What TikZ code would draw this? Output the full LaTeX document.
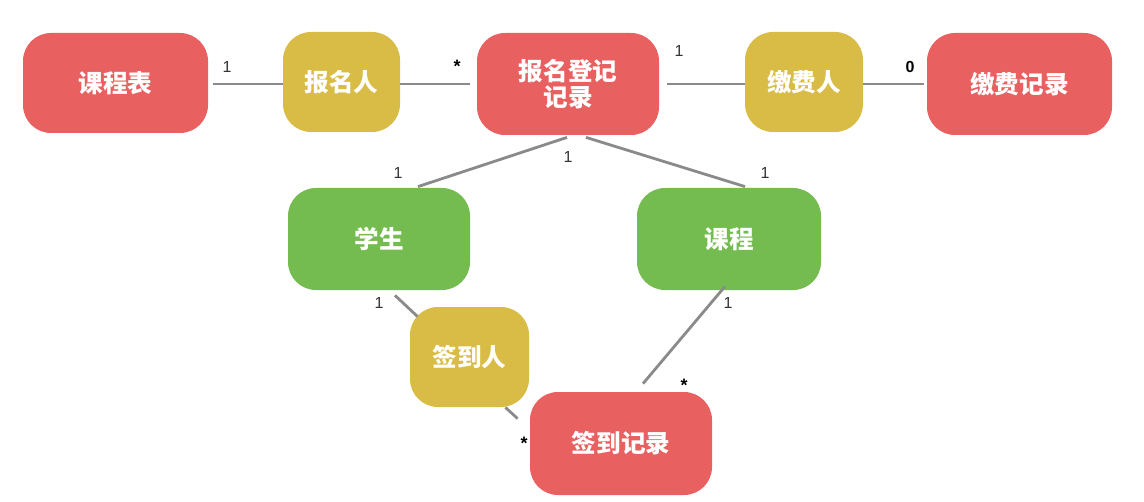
\documentclass[tikz,border=0pt]{standalone}
\usepackage{fontspec}
\setmainfont{Liberation Sans}
\newfontfamily\cjk{Noto Sans CJK SC}
\usetikzlibrary{calc}
\definecolor{cred}{HTML}{E96060}
\definecolor{cyel}{HTML}{D9BC45}
\definecolor{cgrn}{HTML}{74BB50}
\definecolor{cline}{HTML}{8A8A8A}
\definecolor{clbl}{HTML}{333333}
\begin{document}
\begin{tikzpicture}[x=0.5pt,y=-0.5pt,
  box/.style={rounded corners=14pt, inner sep=0pt, text=white,
    font=\cjk\bfseries\fontsize{12.3}{13}\selectfont, align=center},
  redbox/.style={box, fill=cred},
  yelbox/.style={box, fill=cyel},
  grnbox/.style={box, fill=cgrn},
  conn/.style={draw=cline, line width=1.4pt},
  lbl/.style={font=\fontsize{8}{9}\selectfont, inner sep=0pt, text=clbl},
  star/.style={font=\fontsize{9}{9}\selectfont\bfseries, inner sep=0pt, text=black, yshift=-1.5pt}]
\fill[white] (0,0) rectangle (1144,502);
\useasboundingbox (0,0) rectangle (1144,502);
% nodes
\node[redbox, minimum width=92.5pt, minimum height=50pt] (kcb) at (115.5,83) {课程表};
\node[yelbox, minimum width=58.5pt, minimum height=50pt] (bmr) at (341.5,82) {报名人};
\node[redbox, minimum width=91pt, minimum height=51pt] (bmdj) at (568,84) {报名登记\\记录};
\node[yelbox, minimum width=59pt, minimum height=50pt] (jfr) at (804,82) {缴费人};
\node[redbox, minimum width=92.5pt, minimum height=51pt] (jfjl) at (1019.5,84) {缴费记录};
\node[grnbox, minimum width=91pt, minimum height=51pt] (xs) at (379,239) {学生};
\node[grnbox, minimum width=92pt, minimum height=51pt] (kc) at (729,239) {课程};
\node[yelbox, minimum width=59.5pt, minimum height=50pt] (qdr) at (469.5,357) {签到人};
\node[redbox, minimum width=91pt, minimum height=51.5pt] (qdjl) at (621,443.5) {签到记录};
% connectors
\draw[conn] ($(kcb.east)+(5,1)$) -- ($(bmr.west)+(0,2)$);
\draw[conn] ($(bmr.east)+(0,2)$) -- ($(bmdj.west)+(-7,0)$);
\draw[conn] ($(bmdj.east)+(8,0)$) -- ($(jfr.west)+(0,2)$);
\draw[conn] ($(jfr.east)+(0,2)$) -- ($(jfjl.west)+(-3,0)$);
\draw[conn] ($(bmdj.south)+(-1,2)$) -- ($(xs.north)+(39,-1)$);
\draw[conn] ($(bmdj.south)+(18,2)$) -- ($(kc.north)+(16,-1)$);
\draw[conn] ($(xs.south)+(16,5)$) -- ($(qdr.north west)+(8,10)$);
\draw[conn] ($(qdr.south east)+(-24,0)$) -- ($(qdjl.north west)+(-12,27)$);
\draw[conn] ($(kc.south)+(-4,-4)$) -- ($(qdjl.north)+(22,-8)$);
% labels
\node[lbl] (l1) at (227,67) {1};
\node[star] (l2) at (457,63) {*};
\node[lbl] (l3) at (679,51) {1};
\node[lbl, font=\fontsize{8}{9}\selectfont\bfseries, text=black] (l4) at (910,67) {0};
\node[lbl] (l5) at (568,157) {1};
\node[lbl] (l6) at (398,173) {1};
\node[lbl] (l7) at (765,173) {1};
\node[lbl] (l8) at (379,303) {1};
\node[star] (l9) at (524,440) {*};
\node[lbl] (l10) at (728,303) {1};
\node[star] (l11) at (684,382) {*};
\end{tikzpicture}
\end{document}
